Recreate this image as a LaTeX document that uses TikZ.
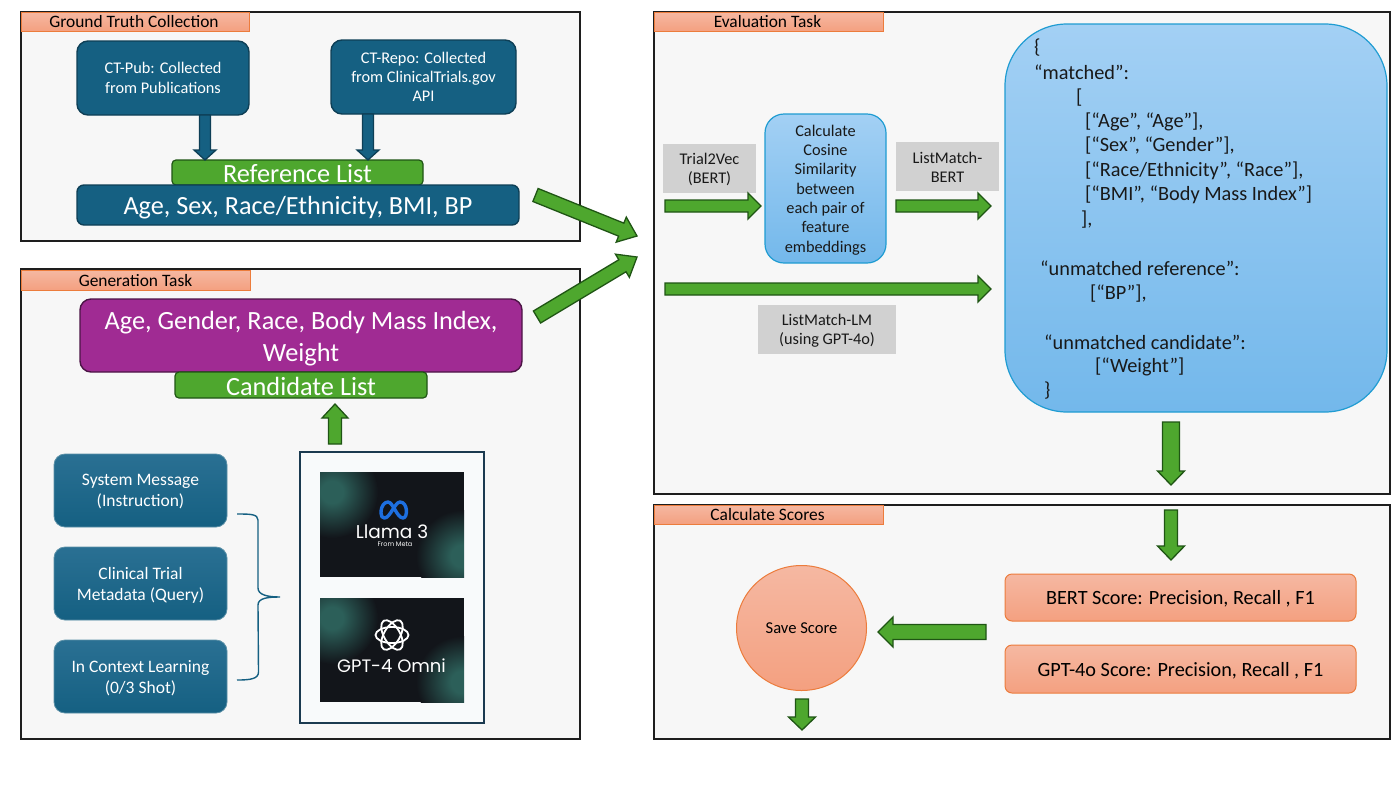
\documentclass[tikz,border=0pt]{standalone}
\usepackage{fontspec}
\setmainfont{Carlito}
\newfontfamily\logofont{Poppins}
\usetikzlibrary{calc}
\definecolor{panelfill}{HTML}{F7F7F7}
\definecolor{panelline}{HTML}{1E1E1E}
\definecolor{tagtop}{HTML}{F5B8A2}
\definecolor{tagbot}{HTML}{F4A080}
\definecolor{tagline}{HTML}{EC7C3C}
\definecolor{navy}{HTML}{156082}
\definecolor{navyline}{HTML}{0E3F56}
\definecolor{navytop}{HTML}{2A7093}
\definecolor{leaf}{HTML}{4EA72E}
\definecolor{leafline}{HTML}{1F5514}
\definecolor{plum}{HTML}{A02B93}
\definecolor{plumline}{HTML}{4B1445}
\definecolor{skytop}{HTML}{A3D0F4}
\definecolor{skybot}{HTML}{73B8EB}
\definecolor{skyline}{HTML}{1F9CD2}
\definecolor{greybox}{HTML}{D1D1D1}
\definecolor{imgbase}{HTML}{12151A}
\definecolor{imgglow}{HTML}{2C5F59}
\definecolor{modelline}{HTML}{1B3A50}
\definecolor{modelfill}{HTML}{F8FAFB}
\definecolor{metablue}{HTML}{1D6FE0}
\pgfdeclareradialshading{glow}{\pgfpoint{0bp}{0bp}}{color(0bp)=(imgglow); color(6bp)=(imgglow); color(25bp)=(imgbase); color(50bp)=(imgbase)}
\tikzset{
  panel/.style={draw=panelline,line width=1.4pt,fill=panelfill},
  panel text/.style={},
  tag/.style={draw=tagline,line width=1pt,top color=tagtop,bottom color=tagbot},
  tag text/.style={text=black,font=\fontsize{17.4}{20}\selectfont,yshift=-.5pt},
  navybox/.style={draw=navyline,line width=1.4pt,fill=navy,rounded corners=11pt},
  navybox text/.style={text=white,align=center,font=\fontsize{16.3}{19.3}\selectfont},
  navygrad/.style={draw=navy!70!white,line width=.8pt,top color=navytop,bottom color=navy,rounded corners=11pt},
  navygrad text/.style={text=white,align=center,font=\fontsize{17.5}{21}\selectfont,yshift=-1.5pt},
  greenbox/.style={draw=leafline,line width=1.2pt,fill=leaf,rounded corners=4pt},
  greenbox text/.style={text=white,font=\fontsize{26.3}{28}\selectfont,yshift=-1pt},
  listbox/.style={draw=navyline,line width=1.4pt,fill=navy,rounded corners=7pt},
  listbox text/.style={text=white,align=center,font=\fontsize{26.2}{30}\selectfont,yshift=-2.5pt},
  plumbox/.style={draw=plumline,line width=1.4pt,fill=plum,rounded corners=11pt},
  plumbox text/.style={text=white,align=center,font=\fontsize{26.3}{32}\selectfont,yshift=-3pt},
  skybox/.style={draw=skyline,line width=1.2pt,top color=skytop,bottom color=skybot},
  cosbox/.style={skybox,rounded corners=19pt},
  cosbox text/.style={align=center,text=black!90,font=\fontsize{16.3}{19.3}\selectfont,yshift=-1.5pt},
  jsonbox/.style={skybox,rounded corners=62pt},
  jsonbox text/.style={},
  greylabel/.style={fill=greybox},
  greylabel text/.style={align=center,text=black!90,font=\fontsize{16.3}{19.3}\selectfont,yshift=-1pt},
  scorebox/.style={draw=tagline,line width=1pt,top color=tagtop,bottom color=tagbot,rounded corners=7pt},
  scorebox text/.style={text=black,font=\fontsize{20.25}{22}\selectfont,yshift=-1.5pt},
  jsontext/.style={anchor=west,inner sep=0pt,text=black!90,font=\fontsize{20.3}{22}\selectfont},
  blockarrow/.style={draw=leafline,line width=1.3pt,fill=leaf,line join=miter},
  navyarrow/.style={draw=navyline,line width=1.3pt,fill=navy,line join=miter},
  modelbox/.style={draw=modelline,line width=1.8pt,fill=modelfill},
  modelbox text/.style={},
  imgtile/.style={fill=imgbase},
  bracket/.style={draw=navy,line width=1.4pt},
}
% name, style, x1, y1, x2, y2, text
\newcommand\bx[7]{%
  \pgfmathsetmacro\bxw{#5-#3}\pgfmathsetmacro\bxh{#6-#4}%
  \node[#2,minimum width=\bxw pt,minimum height=\bxh pt,inner sep=0pt,outer sep=0pt] (#1) at ({(#3+#5)/2},{(#4+#6)/2}) {};
  \node[#2 text,inner sep=0pt] (#1-t) at (#1.center) {#7};}
% style, from, to, shaft half, head half, head length
\newcommand\barrow[6]{%
  \coordinate (hb) at ($(#3)!#6pt!(#2)$);
  \draw[#1] ($(#2)!#4pt!90:(#3)$) -- ($(hb)!#4pt!90:(#3)$) -- ($(hb)!#5pt!90:(#3)$) -- (#3)
    -- ($(hb)!#5pt!-90:(#3)$) -- ($(hb)!#4pt!-90:(#3)$) -- ($(#2)!#4pt!-90:(#3)$) -- cycle;}
\begin{document}
\begin{tikzpicture}[x=1pt,y=-1pt]
\useasboundingbox (0,0) rectangle (1400,788);
\fill[white] (0,0) rectangle (1400,788);
% panels
\bx{pGT}{panel}{21}{12}{580}{241}{}
\bx{pGen}{panel}{21}{269}{580}{739}{}
\bx{pEval}{panel}{654}{12}{1390}{494}{}
\bx{pScore}{panel}{654}{505}{1390}{739}{}
\bx{tGT}{tag}{21}{12}{249}{31}{\hspace*{-2pt}Ground Truth Collection}
\bx{tGen}{tag}{21}{270}{250}{290}{Generation Task}
\bx{tEval}{tag}{654}{12}{883}{31}{\hspace*{-2pt}Evaluation Task}
\bx{tScore}{tag}{654}{505}{883}{524}{\hspace*{-2pt}Calculate Scores}
% ground truth
\bx{pub}{navybox}{77}{41}{249}{115}{CT-Pub: Collected\\from Publications}
\bx{repo}{navybox}{331}{40}{516}{114}{CT-Repo: Collected\\from ClinicalTrials.gov\\API}
\bx{reflist}{greenbox}{172}{160}{423}{185}{Reference List}
\bx{agebox}{listbox}{77}{185}{519}{225}{Age, Sex, Race/Ethnicity, BMI, BP}
\coordinate (pubA) at (205,115); \coordinate (pubB) at (205,160);
\coordinate (repoA) at (368,114); \coordinate (repoB) at (368,160);
\barrow{navyarrow}{pubA}{pubB}{5.5}{11}{10}
\barrow{navyarrow}{repoA}{repoB}{5.5}{11}{10}
% generation
\bx{cand}{plumbox}{80}{299}{522}{372}{Age, Gender, Race, Body Mass Index,\\Weight}
\bx{candl}{greenbox}{175}{372}{427}{398}{Candidate List}
\bx{sys}{navygrad}{54}{454}{227}{527}{System Message\\(Instruction)}
\bx{meta}{navygrad}{54}{547}{227}{620}{Clinical Trial\\Metadata (Query)}
\bx{icl}{navygrad}{54}{640}{227}{713}{In Context Learning\\(0/3 Shot)}
\draw[bracket] (237,514) .. controls (250,514) and (258,514) .. (258,520) -- (258,588)
  .. controls (258,595) and (268,597) .. (280,597) .. controls (268,597) and (258,598) .. (258,605)
  -- (258.5,672) .. controls (258.5,679) and (250,680) .. (237,680);
\bx{models}{modelbox}{300}{452}{484}{723}{}
\coordinate (upA) at (335,444); \coordinate (upB) at (335,404);
\barrow{blockarrow}{upA}{upB}{6.5}{13}{14}
% llama tile
\begin{scope}
  \clip (320,472) rectangle (464,577);
  \fill[imgtile] (320,472) rectangle (464,577);
  \shade[shading=glow] (332,492) circle (46);
  \shade[shading=glow] (462,556) circle (46);
\end{scope}
\draw[metablue,line width=3.4pt,line cap=round,line join=round] (381,513) .. controls (381,505) and (385,502) .. (388,502)
  .. controls (393,502) and (397,518) .. (403,518) .. controls (408,518) and (408,502) .. (400,502)
  .. controls (395,502) and (390,518) .. (384.5,518) .. controls (382,518) and (381,516) .. (381,513);
\node[text=white,inner sep=0pt,font=\logofont\fontsize{18.5}{20}\selectfont] (llama) at (392,532) {Llama 3};
\node[text=white,inner sep=0pt,font=\logofont\fontsize{6.5}{7}\selectfont] (frommeta) at (395,544.5) {From Meta};
% gpt tile
\begin{scope}
  \clip (320,598) rectangle (464,702);
  \fill[imgtile] (320,598) rectangle (464,702);
  \shade[shading=glow] (332,618) circle (46);
  \shade[shading=glow] (462,682) circle (46);
\end{scope}
\foreach \a in {0,60,120}
  \draw[white,line width=1.8pt,rotate around={\a:(392,635)}] (392,635) ellipse (16.5 and 8);
\node[text=white,inner sep=0pt,font=\logofont\fontsize{18}{20}\selectfont] (gpt) at (391.5,666) {GPT-4 Omni};
% cross arrows
\coordinate (crossA) at (535.5,195); \coordinate (crossB) at (637,236);
\coordinate (crossC) at (537,317); \coordinate (crossD) at (637,257);
\barrow{blockarrow}{crossA}{crossB}{7}{13.5}{17}
\barrow{blockarrow}{crossC}{crossD}{7}{13.5}{17}
% evaluation
\bx{trial}{greylabel}{663}{144}{756}{193}{Trial2Vec\\(BERT)}
\bx{cosine}{cosbox}{765}{114}{886}{263}{Calculate\\Cosine\\Similarity\\between\\each pair of\\feature\\embeddings}
\bx{lmb}{greylabel}{896}{142}{999}{191}{ListMatch-\\BERT}
\bx{lml}{greylabel}{758}{305}{896}{354}{ListMatch-LM\\(using GPT-4o)}
\bx{json}{jsonbox}{1005}{24}{1387}{412}{}
\coordinate (e1a) at (665,206); \coordinate (e1b) at (761,206);
\coordinate (e2a) at (896,206); \coordinate (e2b) at (991,206);
\coordinate (e3a) at (665,289); \coordinate (e3b) at (991,289);
\barrow{blockarrow}{e1a}{e1b}{6}{13}{13}
\barrow{blockarrow}{e2a}{e2b}{6}{13}{13}
\barrow{blockarrow}{e3a}{e3b}{6}{13}{13}
\node[jsontext] (j1) at (1034,48) {\{};
\node[jsontext] (j2) at (1034,72) {“matched”:};
\node[jsontext] (j3) at (1076,98) {[};
\node[jsontext] (j4) at (1085,122) {[“Age”, “Age”],};
\node[jsontext] (j5) at (1085,146) {[“Sex”, “Gender”],};
\node[jsontext] (j6) at (1085,171) {[“Race/Ethnicity”, “Race”],};
\node[jsontext] (j7) at (1085,195) {[“BMI”, “Body Mass Index”]};
\node[jsontext] (j8) at (1081,220) {],};
\node[jsontext] (j9) at (1040,268) {“unmatched reference”:};
\node[jsontext] (j10) at (1090,294) {[“BP”],};
\node[jsontext] (j11) at (1044,342) {“unmatched candidate”:};
\node[jsontext] (j12) at (1095,367) {[“Weight"]};
\node[jsontext] (j13) at (1044,391) {\}};
\coordinate (d1a) at (1171,422); \coordinate (d1b) at (1171,485);
\barrow{blockarrow}{d1a}{d1b}{8.5}{13.5}{14}
% scores
\coordinate (d2a) at (1171,510); \coordinate (d2b) at (1171,560);
\barrow{blockarrow}{d2a}{d2b}{6.5}{13.5}{14}
\bx{bert}{scorebox}{1005}{574}{1356}{621}{BERT Score: Precision, Recall , F1}
\bx{gpto}{scorebox}{1005}{645}{1356}{693}{GPT-4o Score: Precision, Recall , F1}
\draw[tagline,line width=1pt,top color=tagtop,bottom color=tagbot] (801.5,628) ellipse (65 and 62.5);
\node[inner sep=0pt,text=black,font=\fontsize{16.6}{18}\selectfont] (save) at (801.5,628.5) {Save Score};
\coordinate (lfa) at (986,632); \coordinate (lfb) at (878,632);
\barrow{blockarrow}{lfa}{lfb}{7.5}{15}{15}
\coordinate (dna) at (802,699); \coordinate (dnb) at (802,730);
\barrow{blockarrow}{dna}{dnb}{6.5}{13.5}{13}
\end{tikzpicture}
\end{document}
